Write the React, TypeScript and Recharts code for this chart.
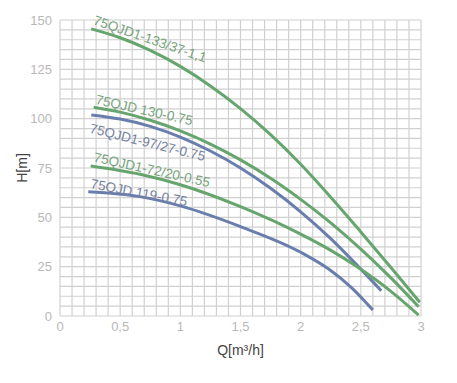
import React from "react";
import { LineChart, Line, XAxis, YAxis, CartesianGrid, ReferenceDot, Label } from "recharts";

// pump curves, Q [m3/h] -> H [m]
const pump133 = [
  { q: 0.26, h: 145.5 }, { q: 0.5, h: 141 }, { q: 0.75, h: 134.6 }, { q: 1.0, h: 126.5 },
  { q: 1.25, h: 116.6 }, { q: 1.5, h: 105.1 }, { q: 1.75, h: 91.9 }, { q: 2.0, h: 76.9 },
  { q: 2.25, h: 60.2 }, { q: 2.5, h: 42.6 }, { q: 2.75, h: 24.6 }, { q: 2.99, h: 7 },
];
const pump130 = [
  { q: 0.28, h: 105.8 }, { q: 0.5, h: 103.3 }, { q: 0.75, h: 99.2 }, { q: 1.0, h: 93.8 },
  { q: 1.25, h: 87.1 }, { q: 1.5, h: 79.1 }, { q: 1.75, h: 69.8 }, { q: 2.0, h: 59.1 },
  { q: 2.25, h: 47.2 }, { q: 2.5, h: 33.9 }, { q: 2.75, h: 19.3 }, { q: 2.98, h: 4.7 },
];
const pump97 = [
  { q: 0.26, h: 101.9 }, { q: 0.5, h: 99.8 }, { q: 0.75, h: 96.1 }, { q: 1.0, h: 90.7 },
  { q: 1.25, h: 83.6 }, { q: 1.5, h: 75 }, { q: 1.75, h: 64.7 }, { q: 2.0, h: 52.8 },
  { q: 2.25, h: 39.2 }, { q: 2.46, h: 26.3 }, { q: 2.67, h: 12.8 },
];
const pump72 = [
  { q: 0.255, h: 76 }, { q: 0.665, h: 71.8 }, { q: 1.0, h: 66.5 }, { q: 1.5, h: 55.4 },
  { q: 2.0, h: 41.5 }, { q: 2.244, h: 33.5 }, { q: 2.46, h: 25.3 }, { q: 2.75, h: 12.5 },
  { q: 2.98, h: 0.5 },
];
const pump119 = [
  { q: 0.235, h: 63 }, { q: 0.665, h: 60.5 }, { q: 1.0, h: 55.8 }, { q: 1.5, h: 45.3 },
  { q: 2.0, h: 32.3 }, { q: 2.244, h: 23.3 }, { q: 2.42, h: 14.5 }, { q: 2.6, h: 3 },
];

const xTicks = [0, 0.1, 0.2, 0.3, 0.4, 0.5, 0.6, 0.7, 0.8, 0.9, 1, 1.1, 1.2, 1.3, 1.4, 1.5,
  1.6, 1.7, 1.8, 1.9, 2, 2.1, 2.2, 2.3, 2.4, 2.5, 2.6, 2.7, 2.8, 2.9, 3];
const xLabelTicks = [0, 0.5, 1, 1.5, 2, 2.5, 3];
const yTicks = [0, 5, 10, 15, 20, 25, 30, 35, 40, 45, 50, 55, 60, 65, 70, 75, 80, 85, 90, 95,
  100, 105, 110, 115, 120, 125, 130, 135, 140, 145, 150];
const yLabelTicks = [0, 25, 50, 75, 100, 125, 150];

const GREEN = "#66a56d";
const BLUE = "#6a7eae";

const curveLabels = [
  { name: "75QJD1-133/37-1,1", q: 0.27, h: 148, angle: 19, color: "#77a37c" },
  { name: "75QJD 130-0.75", q: 0.29, h: 107.5, angle: 12.5, color: "#77a37c" },
  { name: "75QJD1-97/27-0.75", q: 0.24, h: 93, angle: 14, color: "#7681a0" },
  { name: "75QJD1-72/20-0.55", q: 0.275, h: 78.3, angle: 12.5, color: "#77a37c" },
  { name: "75QJD 119-0.75", q: 0.25, h: 64.8, angle: 10.5, color: "#7681a0" },
];

const font = "Liberation Sans, Arial, sans-serif";

const fmtX = (v: number) => (xLabelTicks.includes(v) ? String(v).replace(".", ",") : "");
const fmtY = (v: number) => (yLabelTicks.includes(v) ? String(v) : "");

const textShape = (name: string, angle: number, color: string) => (props: any) => (
  <text
    x={props.cx}
    y={props.cy}
    transform={`rotate(${angle}, ${props.cx}, ${props.cy})`}
    fill={color}
    fontSize={13.5}
    fontFamily={font}
  >
    {name}
  </text>
);

export default function App() {
  return (
    <div style={{ position: "absolute", left: 0, top: 0, width: 457, height: 383, background: "#fff" }}>
      <LineChart width={457} height={383} margin={{ top: 20, right: 36, bottom: 22, left: 0 }}>
        <CartesianGrid stroke="#d0d0d0" strokeWidth={1.2} />
        <XAxis
          type="number"
          dataKey="q"
          domain={[0, 3]}
          ticks={xTicks}
          interval={0}
          tickFormatter={fmtX}
          axisLine={false}
          tickLine={false}
          tickSize={0}
          tickMargin={6}
          height={45}
          tick={{ fill: "#b8b8b8", fontSize: 13, fontFamily: font }}
        >
          <Label value="Q[m³/h]" position="insideBottom" offset={6} fill="#444" fontSize={14} fontFamily={font} />
        </XAxis>
        <YAxis
          type="number"
          domain={[0, 150]}
          ticks={yTicks}
          interval={0}
          tickFormatter={fmtY}
          axisLine={false}
          tickLine={false}
          tickSize={0}
          tickMargin={8}
          width={60}
          tick={{ fill: "#b8b8b8", fontSize: 13, fontFamily: font }}
        >
          <Label
            content={(p: any) => {
              const vb = p.viewBox;
              const cx = vb.x + 22;
              const cy = vb.y + vb.height / 2;
              return (
                <text x={cx} y={cy} transform={`rotate(-90, ${cx}, ${cy})`} textAnchor="middle"
                  dominantBaseline="central" fill="#444" fontSize={14} fontFamily={font}>
                  H[m]
                </text>
              );
            }}
          />
        </YAxis>
        <Line data={pump133} dataKey="h" type="monotone" stroke={GREEN} strokeWidth={3} dot={false} isAnimationActive={false} />
        <Line data={pump130} dataKey="h" type="monotone" stroke={GREEN} strokeWidth={3} dot={false} isAnimationActive={false} />
        <Line data={pump97} dataKey="h" type="monotone" stroke={BLUE} strokeWidth={3} dot={false} isAnimationActive={false} />
        <Line data={pump72} dataKey="h" type="monotone" stroke={GREEN} strokeWidth={3} dot={false} isAnimationActive={false} />
        <Line data={pump119} dataKey="h" type="monotone" stroke={BLUE} strokeWidth={3} dot={false} isAnimationActive={false} />
        {curveLabels.map((l) => (
          <ReferenceDot key={l.name} x={l.q} y={l.h} r={0} ifOverflow="visible"
            shape={textShape(l.name, l.angle, l.color)} />
        ))}
      </LineChart>
    </div>
  );
}
